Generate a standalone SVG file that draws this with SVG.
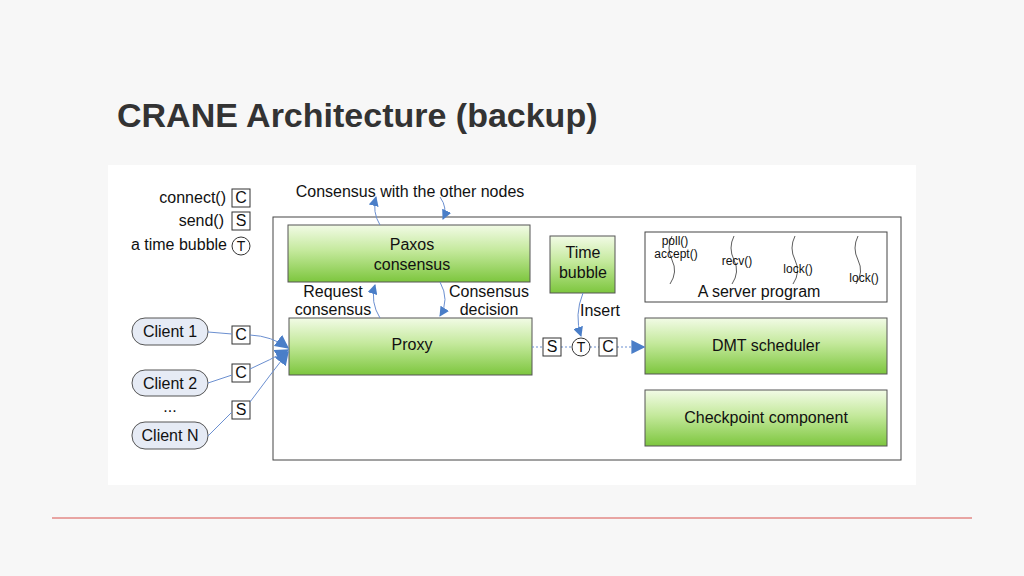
<svg xmlns="http://www.w3.org/2000/svg" width="1024" height="576" viewBox="0 0 1024 576">
<defs>
<linearGradient id="g" x1="0" y1="0" x2="0" y2="1"><stop offset="0" stop-color="#f2fbe6"/><stop offset="0.45" stop-color="#c4e99c"/><stop offset="1" stop-color="#7dc63e"/></linearGradient>
<marker id="a" viewBox="0 0 10 10" refX="9" refY="5" markerWidth="10" markerHeight="10" markerUnits="userSpaceOnUse" orient="auto"><path d="M0,0L10,5L0,10z" fill="#4a7ec8"/></marker>
<marker id="b" viewBox="0 0 10 10" refX="9" refY="5" markerWidth="14" markerHeight="14" markerUnits="userSpaceOnUse" orient="auto"><path d="M0,0L10,5L0,10z" fill="#4a7ec8"/></marker>
</defs>
<style>
text{font-family:"Liberation Sans",Arial,sans-serif;fill:#111}
.n{fill:url(#g);stroke:#555;stroke-width:1}
.t{font-size:16px;text-anchor:middle}
.s{font-size:16px}
.bx{fill:#fff;stroke:#333;stroke-width:1}
.c{fill:none;stroke:#6b8fd0;stroke-width:1}
.cl{fill:#e6ebf5;stroke:#555}
.th{fill:none;stroke:#333;stroke-width:0.8}
</style>
<rect width="1024" height="576" fill="#f7f7f7"/>
<rect x="108" y="165" width="808" height="320" fill="#fff"/>
<text x="117" y="127" style="font-size:34px;font-weight:bold;fill:#333">CRANE Architecture (backup)</text>
<line x1="52" y1="518" x2="972" y2="518" stroke="#d9534f" stroke-width="1"/>
<g id="legend">
<text x="226" y="203" class="s" text-anchor="end">connect()</text><rect x="232" y="189" width="18" height="18" class="bx"/><text x="241" y="203" class="t">C</text>
<text x="224" y="226" class="s" text-anchor="end">send()</text><rect x="232" y="212" width="18" height="18" class="bx"/><text x="241" y="226" class="t">S</text>
<text x="227" y="250" class="s" text-anchor="end">a time bubble</text><circle cx="241" cy="246" r="9" class="bx"/><text x="241" y="251" class="t" style="font-size:14px">T</text>
</g>
<rect id="outer" x="273" y="217" width="628" height="243" fill="none" stroke="#444"/>
<g id="paxos"><rect x="288" y="225" width="242" height="57" class="n"/><text x="412" y="250" class="t">Paxos</text><text x="412" y="270" class="t">consensus</text></g>
<g id="timebubble"><rect x="550" y="236" width="65" height="57" class="n"/><text x="583" y="258" class="t">Time</text><text x="583" y="278" class="t">bubble</text></g>
<g id="server"><rect x="645" y="232" width="242" height="70" fill="#fff" stroke="#444"/>
<path d="M672,236 q-6,12 0,24 q6,12 -2,24" class="th"/><path d="M734,236 q-6,12 0,24 q6,12 -2,24" class="th"/><path d="M795,236 q-6,12 0,24 q6,12 -2,24" class="th"/><path d="M858,236 q-6,12 0,24 q6,12 -2,24" class="th"/>
<text x="675" y="245" class="t" style="font-size:12px">poll()</text><text x="676" y="258" class="t" style="font-size:12px">accept()</text><text x="737" y="265" class="t" style="font-size:12px">recv()</text><text x="798" y="273" class="t" style="font-size:12px">lock()</text><text x="864" y="282" class="t" style="font-size:12px">lock()</text>
<text x="759" y="297" class="t" style="font-size:16px">A server program</text></g>
<g id="proxy"><rect x="289" y="318" width="243" height="57" class="n"/><text x="412" y="350" class="t">Proxy</text></g>
<g id="dmt"><rect x="645" y="318" width="242" height="56" class="n"/><text x="766" y="351" class="t">DMT scheduler</text></g>
<g id="checkpoint"><rect x="645" y="390" width="242" height="56" class="n"/><text x="766" y="423" class="t">Checkpoint component</text></g>
<g id="clients">
<rect x="132" y="318" width="76" height="27" rx="13" class="cl"/><text x="170" y="337" class="t">Client 1</text>
<rect x="132" y="370" width="76" height="26" rx="13" class="cl"/><text x="170" y="389" class="t">Client 2</text>
<text x="170" y="412" class="t">...</text>
<rect x="132" y="422" width="76" height="27" rx="13" class="cl"/><text x="170" y="441" class="t">Client N</text>
<rect x="232" y="326" width="18" height="18" class="bx"/><text x="241" y="340" class="t">C</text>
<rect x="232" y="364" width="18" height="18" class="bx"/><text x="241" y="378" class="t">C</text>
<rect x="232" y="401" width="18" height="18" class="bx"/><text x="241" y="415" class="t">S</text>
</g>
<g id="labels">
<text x="410" y="197" class="t">Consensus with the other nodes</text>
<text x="333" y="297" class="t">Request</text><text x="333" y="315" class="t">consensus</text>
<text x="489" y="297" class="t">Consensus</text><text x="489" y="315" class="t">decision</text>
<text x="600" y="316" class="t">Insert</text>
</g>
<g id="connectors">
<path d="M208,332 L232,334" class="c"/><path d="M250,335 Q272,336 288,348" class="c" marker-end="url(#b)"/>
<path d="M208,383 L232,375" class="c"/><path d="M250,369 Q270,360 288,350" class="c" marker-end="url(#b)"/>
<path d="M208,436 L232,412" class="c"/><path d="M250,402 Q270,375 288,352" class="c" marker-end="url(#b)"/>
<path d="M380,225 Q372,212 376,197" class="c" marker-end="url(#a)"/>
<path d="M440,197 Q448,208 443,219" class="c" marker-end="url(#a)"/>
<path d="M380,318 Q370,302 375,285" class="c" marker-end="url(#a)"/>
<path d="M440,282 Q450,300 440,316" class="c" marker-end="url(#a)"/>
<path d="M583,293 Q574,315 581,336" class="c" marker-end="url(#a)"/>
<path d="M532,347 L543,347 M561,347 L572,347 M590,347 L599,347 M617,347 L644,347" class="c" stroke-dasharray="2,2" marker-end="url(#b)"/>
</g>
<g id="pipeline">
<rect x="543" y="338" width="18" height="18" class="bx"/><text x="552" y="352" class="t">S</text>
<circle cx="581" cy="347" r="9" class="bx"/><text x="581" y="352" class="t" style="font-size:14px">T</text>
<rect x="599" y="338" width="18" height="18" class="bx"/><text x="608" y="352" class="t">C</text>
</g>
</svg>
